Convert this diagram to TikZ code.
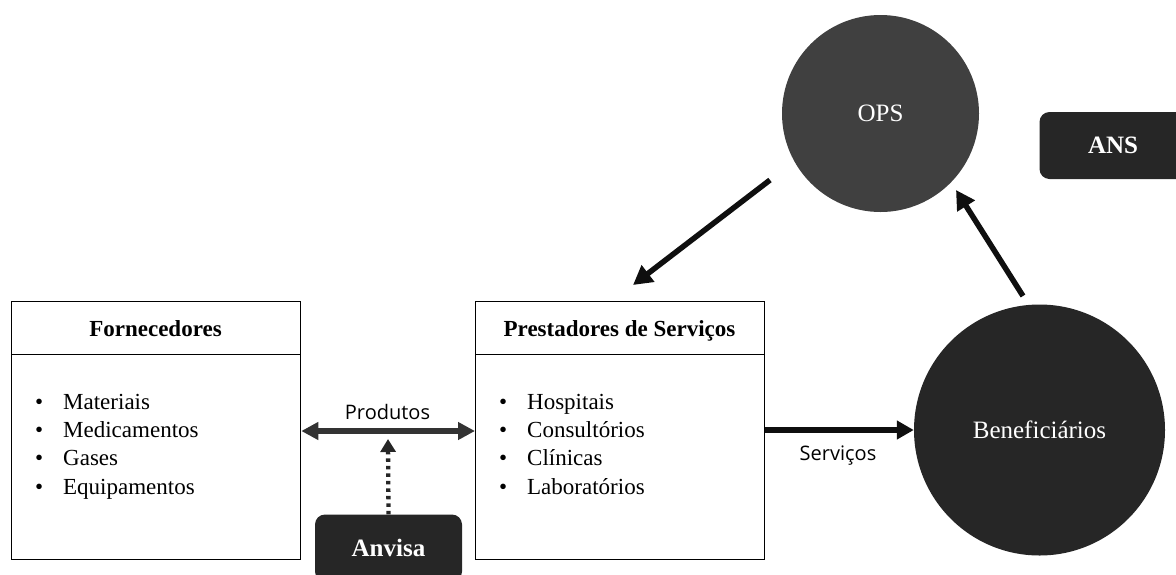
\documentclass[tikz,border=0pt]{standalone}
\usepackage{fontspec}
\setmainfont{Liberation Serif}
\newfontfamily\labelfont{Open Sans}
\usetikzlibrary{arrows.meta}
\definecolor{dk}{HTML}{262626}
\definecolor{opsc}{HTML}{404040}
\definecolor{prodc}{HTML}{333333}
\definecolor{arr}{HTML}{0F0F0F}
\begin{document}
\begin{tikzpicture}[x=1pt,y=-1pt,
  box/.style={draw=black, line width=1.3pt, inner sep=0pt, anchor=north west, minimum width=289pt},
  headbox/.style={box, minimum height=53pt},
  bodybox/.style={box, minimum height=205pt},
  titletext/.style={anchor=base, inner sep=0pt, font=\fontsize{23}{27}\selectfont\bfseries},
  item/.style={anchor=base west, inner sep=0pt, font=\fontsize{23}{27}\selectfont},
  disc/.style={circle, text=white, font=\fontsize{25}{30}\selectfont, inner sep=0pt},
  tag/.style={rounded corners=10pt, fill=dk, text=white, font=\fontsize{25}{30}\selectfont\bfseries, minimum width=147pt, minimum height=67pt, inner sep=0pt},
  flow/.style={draw=arr, line width=5.5pt, -{Triangle[length=19pt,width=20pt]}},
  lbl/.style={anchor=base, inner sep=0pt, font=\labelfont\fontsize{20}{24}\selectfont}
]
\useasboundingbox (0,0) rectangle (1176,574);

% Fornecedores
\node[headbox] (fornh) at (11,301) {};
\node[bodybox] (fornb) at (11,354) {};
\node[titletext] (fornt) at (155.5,336) {Fornecedores};
\node[item] (f1) at (35,409.3) {\makebox[28pt][l]{\textbullet}Materiais};
\node[item] (f2) at (35,437.6) {\makebox[28pt][l]{\textbullet}Medicamentos};
\node[item] (f3) at (35,465.9) {\makebox[28pt][l]{\textbullet}Gases};
\node[item] (f4) at (35,494.2) {\makebox[28pt][l]{\textbullet}Equipamentos};

% Prestadores
\node[headbox] (presh) at (475,301) {};
\node[bodybox] (presb) at (475,354) {};
\node[titletext] (prest) at (619.5,336) {Prestadores de Serviços};
\node[item] (p1) at (499,409.3) {\makebox[28pt][l]{\textbullet}Hospitais};
\node[item] (p2) at (499,437.6) {\makebox[28pt][l]{\textbullet}Consultórios};
\node[item] (p3) at (499,465.9) {\makebox[28pt][l]{\textbullet}Clínicas};
\node[item] (p4) at (499,494.2) {\makebox[28pt][l]{\textbullet}Laboratórios};

% circles and tags
\node[disc, fill=opsc, minimum size=197pt] (ops) at (880.5,113.5) {OPS};
\node[disc, fill=dk, minimum size=251pt] (ben) at (1039.5,430) {Beneficiários};
\node[tag] (anv) at (388.5,548) {Anvisa};
\node[tag] (ans) at (1113,145.5) {ANS};

% coordinates
\coordinate (prodY) at (388,431);
\coordinate (anvTip) at (388,439);
\coordinate (o2pS) at (770,180);
\coordinate (o2pE) at (633,285);
\coordinate (b2oS) at (1023,296);
\coordinate (b2oE) at (956,190);

% connectors
\draw[draw=prodc, line width=5.3pt, {Triangle[length=17pt,width=17pt]}-{Triangle[length=17pt,width=17pt]}]
  (fornb.east |- prodY) -- (presb.west |- prodY);
\node[lbl] (prodl) at (387.5,419) {Produtos};
\draw[draw=dk, line width=4.3pt, dash pattern=on 3.5pt off 4pt, -{Triangle[length=13pt,width=15pt]}]
  (anv.north) -- (anvTip);
\draw[draw=arr, line width=5.5pt, -{Triangle[length=17pt,width=18pt]}]
  (presb.east |- ben.center) -- (ben.west);
\node[lbl] (servl) at (838,460) {Serviços};
\draw[flow] (o2pS) -- (o2pE);
\draw[flow] (b2oS) -- (b2oE);
\end{tikzpicture}
\end{document}
